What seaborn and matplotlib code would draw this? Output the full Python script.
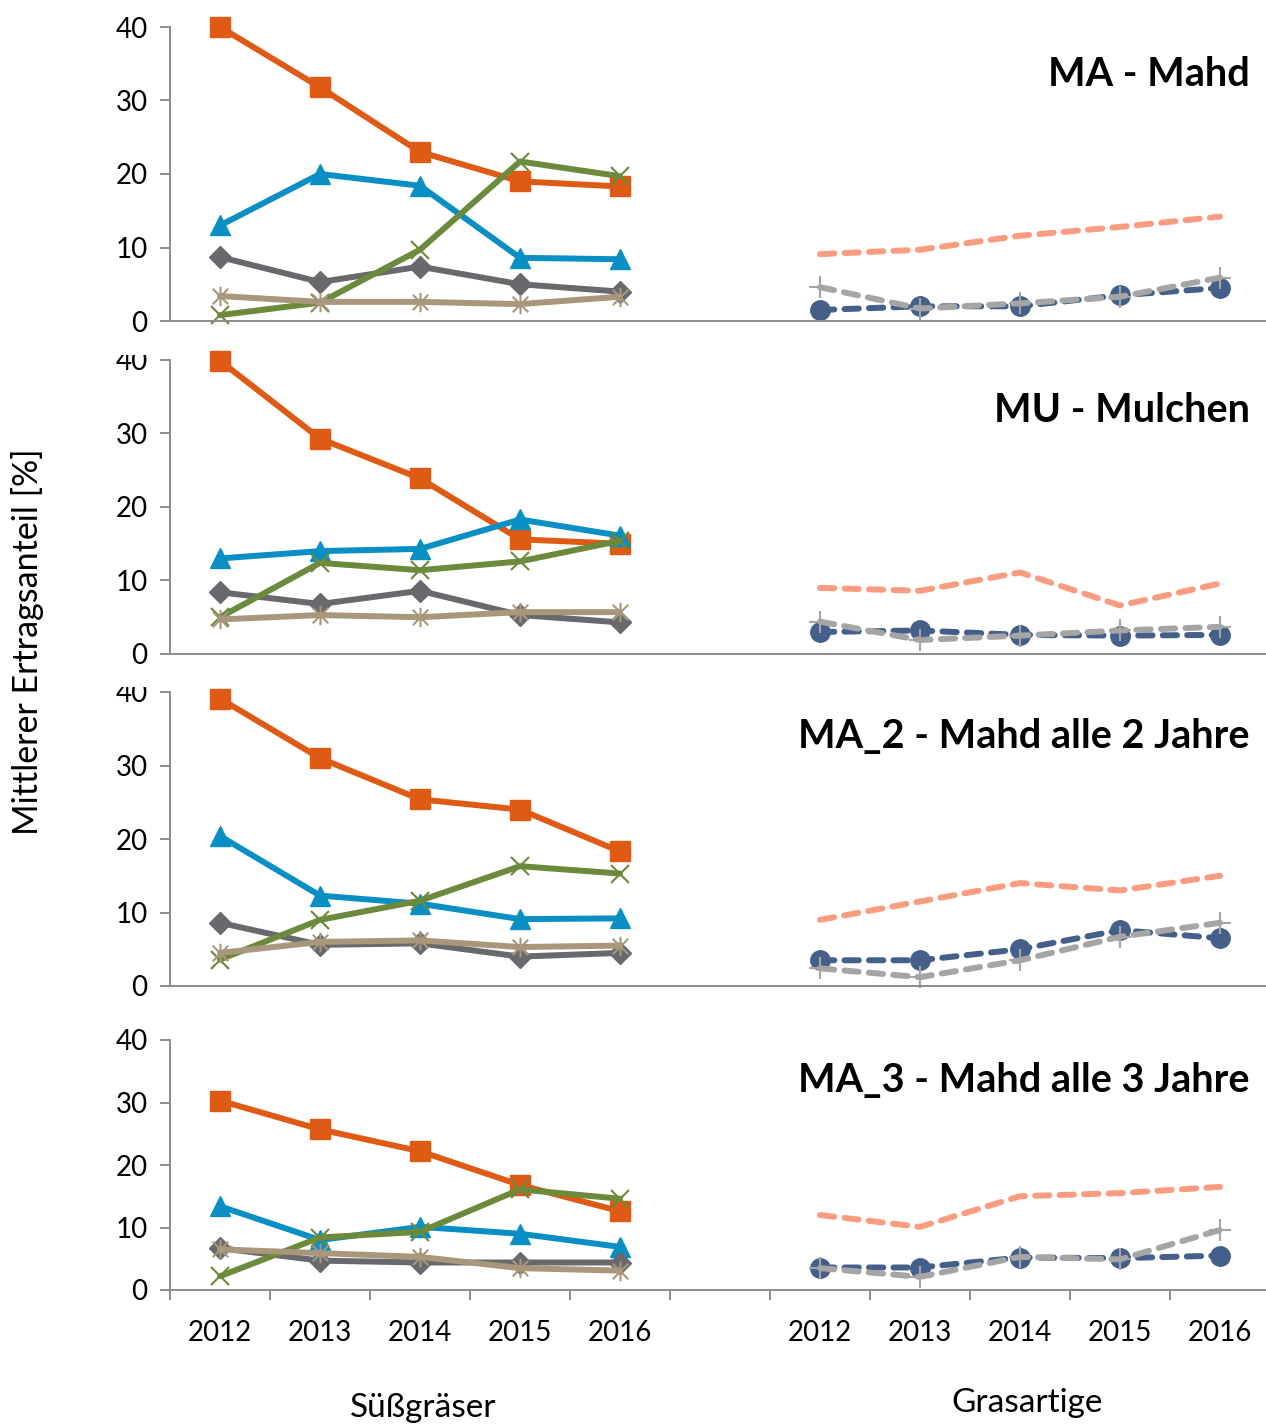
import matplotlib
matplotlib.use("Agg")
import matplotlib.pyplot as plt
from matplotlib.path import Path
from matplotlib.transforms import Bbox, TransformedBbox
import numpy as np
import seaborn as sns

# ---------------------------------------------------------------- data
years = [2012, 2013, 2014, 2015, 2016]
year_labels = [str(y) for y in years]
panel_titles = ["MA - Mahd", "MU - Mulchen",
                "MA_2 - Mahd alle 2 Jahre", "MA_3 - Mahd alle 3 Jahre"]
group_labels = ["Süßgräser", "Grasartige"]
y_ticks = [0, 10, 20, 30, 40]
y_label = "Mittlerer Ertragsanteil [%]"

# Süßgräser, one row per treatment (MA, MU, MA_2, MA_3)
sweet_square = [
    [40.0, 31.8, 23.0, 19.0, 18.3],
    [39.9, 29.3, 23.9, 15.6, 15.0],
    [39.1, 31.0, 25.4, 24.0, 18.3],
    [30.3, 25.7, 22.2, 16.8, 12.6],
]
sweet_triangle = [
    [13.0, 20.0, 18.4, 8.6, 8.4],
    [13.0, 14.0, 14.3, 18.3, 16.1],
    [20.4, 12.3, 11.2, 9.1, 9.2],
    [13.4, 8.0, 10.1, 9.0, 6.9],
]
sweet_diamond = [
    [8.7, 5.3, 7.4, 5.0, 4.0],
    [8.4, 6.8, 8.6, 5.3, 4.3],
    [8.6, 5.6, 5.8, 4.0, 4.5],
    [6.7, 4.7, 4.4, 4.4, 4.4],
]
sweet_cross = [
    [0.8, 2.5, 9.7, 21.7, 19.7],
    [5.0, 12.4, 11.4, 12.6, 15.4],
    [3.6, 9.0, 11.6, 16.3, 15.3],
    [2.2, 8.4, 9.3, 16.1, 14.6],
]
sweet_star = [
    [3.4, 2.6, 2.6, 2.3, 3.3],
    [4.7, 5.3, 5.0, 5.7, 5.7],
    [4.5, 6.0, 6.2, 5.3, 5.5],
    [6.5, 5.9, 5.3, 3.5, 3.1],
]

# Grasartige, one row per treatment
grass_salmon = [
    [9.1, 9.7, 11.6, 12.8, 14.2],
    [9.0, 8.6, 11.1, 6.6, 9.6],
    [9.0, 11.5, 14.0, 13.0, 15.0],
    [12.0, 10.1, 15.0, 15.5, 16.5],
]
grass_circle = [
    [1.5, 2.0, 2.0, 3.5, 4.5],
    [3.0, 3.2, 2.6, 2.5, 2.6],
    [3.5, 3.5, 5.0, 7.6, 6.5],
    [3.6, 3.6, 5.2, 5.1, 5.5],
]
grass_plus = [
    [4.6, 1.7, 2.4, 3.3, 5.9],
    [4.4, 1.9, 2.5, 3.2, 3.7],
    [2.4, 1.2, 3.5, 6.7, 8.6],
    [3.5, 2.1, 5.3, 4.9, 9.6],
]

# ---------------------------------------------------------------- style
sns.set_theme(style="white")
plt.rcParams["font.family"] = ["Lato", "DejaVu Sans"]

AXIS_GREY = "#8C8C8C"
LW = 4.3
DASH = (0, (2.4, 1.7))

# asterisk marker: an x with a vertical bar through it
asterisk = Path(
    [(-1, -1), (1, 1), (-1, 1), (1, -1), (0, -1.25), (0, 1.25)],
    [Path.MOVETO, Path.LINETO, Path.MOVETO, Path.LINETO, Path.MOVETO, Path.LINETO],
)

left_pos = np.arange(5)          # Süßgräser categories
right_pos = np.arange(5) + 6     # Grasartige categories (one empty slot between)

series = [
    (sweet_square, left_pos, dict(color="#DE5A15", marker="s", markersize=14,
                                  markeredgewidth=1, linestyle="-")),
    (sweet_triangle, left_pos, dict(color="#0A8FC4", marker="^", markersize=14,
                                    markeredgewidth=1, linestyle="-")),
    (sweet_diamond, left_pos, dict(color="#69696D", marker="D", markersize=11,
                                   markeredgewidth=1, linestyle="-")),
    (sweet_cross, left_pos, dict(color="#6B8A3B", marker="x", markersize=13,
                                 markeredgewidth=1.5, linestyle="-")),
    (sweet_star, left_pos, dict(color="#A8977B", marker=asterisk, markersize=14,
                                markeredgewidth=1.5, markerfacecolor="none",
                                linestyle="-")),
    (grass_salmon, right_pos, dict(color="#FA9C80", marker=None,
                                   linestyle=DASH)),
    (grass_circle, right_pos, dict(color="#44608A", marker="o", markersize=14,
                                   markeredgewidth=1, linestyle=DASH)),
    (grass_plus, right_pos, dict(color="#A5A5A5", marker="+", markersize=16,
                                 markeredgewidth=1.5, linestyle=DASH)),
]

# ---------------------------------------------------------------- layout
W, H = 1266, 1425
fig = plt.figure(figsize=(W / 100, H / 100), dpi=100)

left_px, right_px = 170, 1266
panel_px = [(27, 321), (360, 654), (692, 986), (1040, 1290)]   # (top, bottom)
title_y_px = [75, 411, 737, 1081]
label_clip_px = [None, 355, 687, None]

axes = []
for i, (top, bot) in enumerate(panel_px):
    ax = fig.add_axes([left_px / W, 1 - bot / H, (right_px - left_px) / W, (bot - top) / H])
    ax.set_facecolor("none")
    axes.append(ax)

for i, ax in enumerate(axes):
    for data, pos, kw in series:
        kw = dict(kw)
        if kw.get("marker") is not None:
            kw.setdefault("markeredgecolor", kw["color"])
        sns.lineplot(x=pos, y=data[i], ax=ax, linewidth=LW, dash_capstyle="round",
                     solid_capstyle="round", clip_on=False, legend=False,
                     errorbar=None, sort=False, **kw)

    ax.set_xlim(-0.5, 10.46)
    ax.set_ylim(0, 40)
    ax.set_xlabel("")
    ax.set_ylabel("")
    ax.set_yticks(y_ticks)
    ax.set_yticklabels([str(t) for t in y_ticks])
    ax.tick_params(axis="y", which="major", left=True, direction="out", length=7.2,
                   width=1.4, color=AXIS_GREY, labelsize=20, pad=9, labelcolor="black")

    for side in ("top", "right"):
        ax.spines[side].set_visible(False)
    for side in ("left", "bottom"):
        ax.spines[side].set_color(AXIS_GREY)
        ax.spines[side].set_linewidth(1.4)

    if i == len(axes) - 1:
        ax.set_xticks(np.arange(-0.5, 10.0, 1.0))
        ax.set_xticklabels([])
        ax.set_xticks(np.concatenate([left_pos, right_pos]), minor=True)
        ax.set_xticklabels(year_labels + year_labels, minor=True)
        ax.tick_params(axis="x", which="major", bottom=True, direction="out",
                       length=7.2, width=1.4, color=AXIS_GREY)
        ax.tick_params(axis="x", which="minor", bottom=True, length=0,
                       labelsize=20, pad=21.5, labelcolor="black")
    else:
        ax.set_xticks([])

    ax.grid(False)

    # the top tick label of the middle charts is cut off by the chart above
    if label_clip_px[i] is not None:
        clip = TransformedBbox(Bbox.from_extents(0, 0, 1, 1 - label_clip_px[i] / H),
                               fig.transFigure)
        for lbl in ax.get_yticklabels():
            lbl.set_clip_box(clip)
            lbl.set_clip_on(True)

    fig.text(1250 / W, 1 - title_y_px[i] / H, panel_titles[i], ha="right",
             va="center", fontsize=28.5, fontweight="bold", color="black")

fig.text(28 / W, 1 - 642 / H, y_label, rotation=90, ha="center", va="center",
         fontsize=24.5, color="black")
fig.text(423 / W, 1 - 1408 / H, group_labels[0], ha="center", va="center",
         fontsize=24, color="black")
fig.text(1027 / W, 1 - 1403 / H, group_labels[1], ha="center", va="center",
         fontsize=24, color="black")

fig.savefig("out.png", dpi=100)
